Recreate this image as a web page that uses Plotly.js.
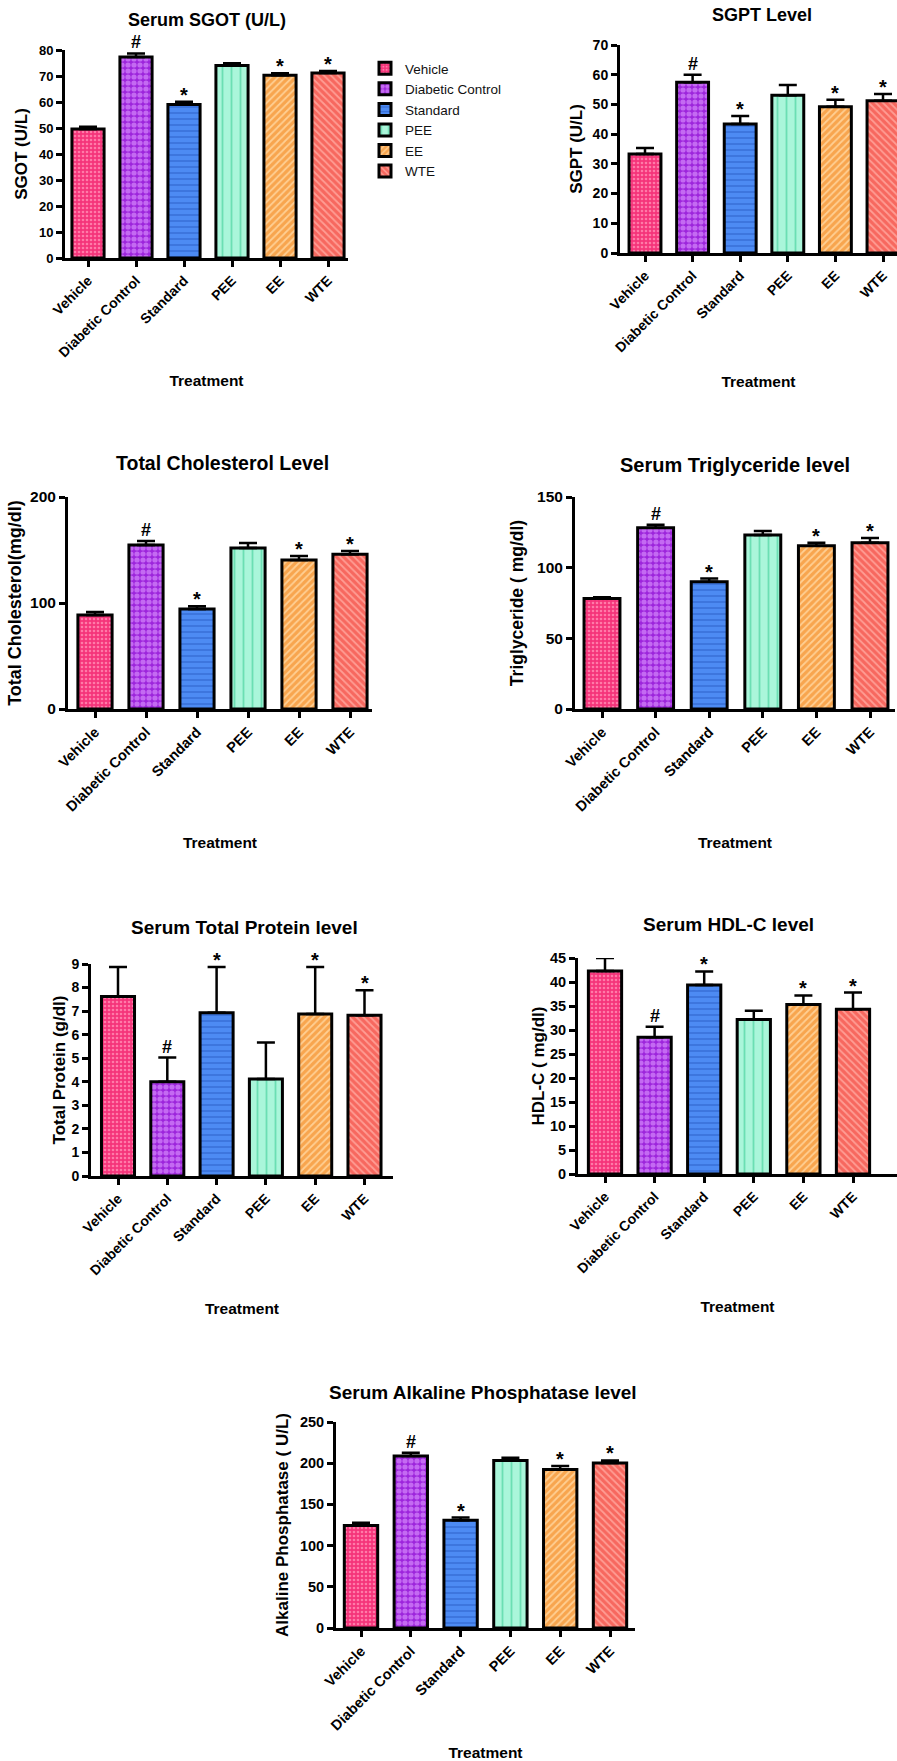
<!DOCTYPE html>
<html><head><meta charset="utf-8">
<script src="https://cdn.plot.ly/plotly-3.0.1.min.js"></script>
<style>html,body{margin:0;padding:0;background:#fff}#chart{width:897px;height:1761px}</style>
</head><body><div id="chart"></div>
<script>
// ---------- data ----------
const categories = ['Vehicle', 'Diabetic Control', 'Standard', 'PEE', 'EE', 'WTE'];
const significance = ['', '#', '*', '', '*', '*'];

const sgot = [49.6, 77.3, 59.0, 74.0, 70.3, 71.2];
const sgotErr = [0.9, 1.4, 1.1, 0.9, 0.8, 0.7];

const sgpt = [33.3, 57.5, 43.4, 53.1, 49.2, 51.2];
const sgptErr = [2.0, 2.5, 2.7, 3.4, 2.4, 2.3];

const cholesterol = [88.7, 154.7, 94.3, 151.9, 140.6, 146.0];
const cholesterolErr = [2.8, 3.8, 2.7, 4.7, 3.7, 3.0];

const triglyceride = [78.2, 128.2, 90.1, 123.2, 115.5, 117.6];
const triglycerideErr = [0.8, 2.1, 2.2, 2.8, 2.1, 3.4];

const protein = [7.62, 4.0, 6.93, 4.12, 6.88, 6.82];
const proteinErr = [1.25, 1.03, 1.94, 1.55, 1.99, 1.07];

const hdl = [42.3, 28.5, 39.4, 32.2, 35.3, 34.3];
const hdlErr = [2.7, 2.2, 2.8, 1.8, 1.9, 3.5];

const alp = [124.4, 208.7, 130.9, 203.4, 192.5, 200.2];
const alpErr = [3.2, 4.0, 3.2, 3.2, 4.0, 3.2];

// ---------- styles ----------
const W = 897, H = 1761;
const FONT = 'Liberation Sans, Arial, Helvetica, sans-serif';
const styles = [
  {bg: '#f5347a', fg: '#ff7aa8', shape: '.', size: 4, solidity: 0.35},
  {bg: '#9d25dc', fg: '#c46af2', shape: '.', size: 6, solidity: 0.6},
  {bg: '#4d8bf3', fg: '#3167d0', shape: '-', size: 6, solidity: 0.2},
  {bg: '#aaf6da', fg: '#6bdfb3', shape: '|', size: 9, solidity: 0.2},
  {bg: '#f8a54e', fg: '#ffcf93', shape: '/', size: 5, solidity: 0.35},
  {bg: '#f7685f', fg: '#ff9d94', shape: '\\', size: 5, solidity: 0.35}
];

// chart frames: [left, right, top, bottom] px; first bar centre px; bar spacing px; font sizes
const charts = [
  {title: 'Serum SGOT (U/L)', ytitle: 'SGOT (U/L)', values: sgot, errors: sgotErr, ymax: 80, dtick: 10,
   rect: [65, 348, 50, 258], c0: 88, sp: 48, tx: 207, ty: 20, tfs: 18,
   yfs: 13, xfs: 14, ytfs: 17, ystand: 7, xstand: 16},
  {title: 'SGPT Level', ytitle: 'SGPT (U/L)', values: sgpt, errors: sgptErr, ymax: 70, dtick: 10,
   rect: [620, 897, 45, 253], c0: 645, sp: 47.6, tx: 762, ty: 15, tfs: 18,
   yfs: 14, xfs: 14, ytfs: 17, ystand: 6, xstand: 22},
  {title: 'Total Cholesterol Level', ytitle: 'Total Cholesterol(mg/dl)', values: cholesterol, errors: cholesterolErr, ymax: 200, dtick: 100,
   rect: [68, 372, 497, 709], c0: 95, sp: 51, tx: 222, ty: 463, tfs: 19.5,
   yfs: 15.5, xfs: 14.5, ytfs: 18, ystand: 4, xstand: 24},
  {title: 'Serum Triglyceride level', ytitle: 'Triglyceride ( mg/dl)', values: triglyceride, errors: triglycerideErr, ymax: 150, dtick: 50,
   rect: [575, 895, 497, 709], c0: 602, sp: 53.6, tx: 735, ty: 465, tfs: 20,
   yfs: 15.5, xfs: 14.5, ytfs: 17.5, ystand: 9, xstand: 24},
  {title: 'Serum Total Protein level', ytitle: 'Total Protein (g/dl)', values: protein, errors: proteinErr, ymax: 9, dtick: 1,
   rect: [91, 393, 964, 1176], c0: 118, sp: 49.3, tx: 244, ty: 928, tfs: 19,
   yfs: 14, xfs: 14, ytfs: 17, ystand: 2, xstand: 26},
  {title: 'Serum HDL-C level', ytitle: 'HDL-C ( mg/dl)', values: hdl, errors: hdlErr, ymax: 45, dtick: 5,
   rect: [578, 897, 958, 1174], c0: 605, sp: 49.6, tx: 728, ty: 925, tfs: 19,
   yfs: 14.5, xfs: 14, ytfs: 17, ystand: 2, xstand: 26},
  {title: 'Serum Alkaline Phosphatase level', ytitle: 'Alkaline Phosphatase ( U/L)', values: alp, errors: alpErr, ymax: 250, dtick: 50,
   rect: [336, 635, 1422, 1628], c0: 361, sp: 49.8, tx: 483, ty: 1392, tfs: 19,
   yfs: 14.5, xfs: 14.5, ytfs: 17, ystand: 7, xstand: 20}
];

const traces = [];
const annotations = [];
const layout = {
  width: W, height: H,
  margin: {l: 0, r: 0, t: 0, b: 0},
  paper_bgcolor: '#fff', plot_bgcolor: 'rgba(0,0,0,0)',
  barmode: 'overlay',
  font: {family: FONT, color: '#000'},
  showlegend: true,
  legend: {x: 365 / W, y: 1 - 53 / H, xanchor: 'left', yanchor: 'top',
           font: {family: FONT, size: 13.5, color: '#111'}, bgcolor: 'rgba(0,0,0,0)', tracegroupgap: 0},
  annotations: annotations
};

charts.forEach((c, i) => {
  const n = i === 0 ? '' : String(i + 1);
  const xa = 'x' + n, ya = 'y' + n;
  const [L, R, T, B] = c.rect;
  layout['xaxis' + n] = {
    domain: [L / W, R / W], anchor: ya,
    type: 'category', categoryorder: 'array', categoryarray: categories,
    range: [(L - c.c0) / c.sp, (R - c.c0) / c.sp],
    showline: true, linecolor: '#000', linewidth: 3,
    ticks: 'outside', ticklen: 6, tickwidth: 3, tickcolor: '#000',
    tickangle: -45, tickfont: {family: FONT, size: c.xfs, weight: 'bold', color: '#000'},
    showgrid: false, zeroline: false, fixedrange: true,
    title: {text: 'Treatment', font: {family: FONT, size: 15.5, weight: 'bold', color: '#000'}, standoff: c.xstand}
  };
  layout['yaxis' + n] = {
    domain: [1 - B / H, 1 - T / H], anchor: xa,
    range: [0, c.ymax], tick0: 0, dtick: c.dtick,
    showline: true, linecolor: '#000', linewidth: 3,
    ticks: 'outside', ticklen: 6, tickwidth: 3, tickcolor: '#000',
    tickfont: {family: FONT, size: c.yfs, weight: 'bold', color: '#000'},
    showgrid: false, zeroline: false, fixedrange: true,
    title: {text: c.ytitle, font: {family: FONT, size: c.ytfs, weight: 'bold', color: '#000'}, standoff: c.ystand}
  };
  categories.forEach((cat, j) => {
    const s = styles[j];
    traces.push({
      type: 'bar', x: [cat], y: [c.values[j]], width: [0.67],
      xaxis: xa, yaxis: ya, name: cat, legendgroup: cat, showlegend: i === 0,
      marker: {color: s.bg, line: {color: '#000', width: 3},
               pattern: {shape: s.shape, fgcolor: s.fg, bgcolor: s.bg, size: s.size, solidity: s.solidity, fillmode: 'replace'}},
      error_y: {type: 'data', symmetric: false, array: [c.errors[j]], arrayminus: [0],
                color: '#000', thickness: 2.5, width: 9},
      hoverinfo: 'skip'
    });
    if (significance[j]) {
      const star = significance[j] === '*';
      annotations.push({
        xref: xa, yref: ya, x: cat, y: c.values[j] + c.errors[j],
        text: significance[j], showarrow: false, yanchor: 'bottom',
        yshift: star ? -6 : -1,
        font: {family: FONT, size: star ? 20 : 18, weight: 'bold', color: '#000'}
      });
    }
  });
  annotations.push({
    xref: 'paper', yref: 'paper', x: c.tx / W, y: 1 - c.ty / H,
    xanchor: 'center', yanchor: 'middle', showarrow: false,
    text: c.title, font: {family: FONT, size: c.tfs, weight: 'bold', color: '#000'}
  });
});

Plotly.newPlot('chart', traces, layout, {staticPlot: true, displayModeBar: false});
</script>
</body></html>
